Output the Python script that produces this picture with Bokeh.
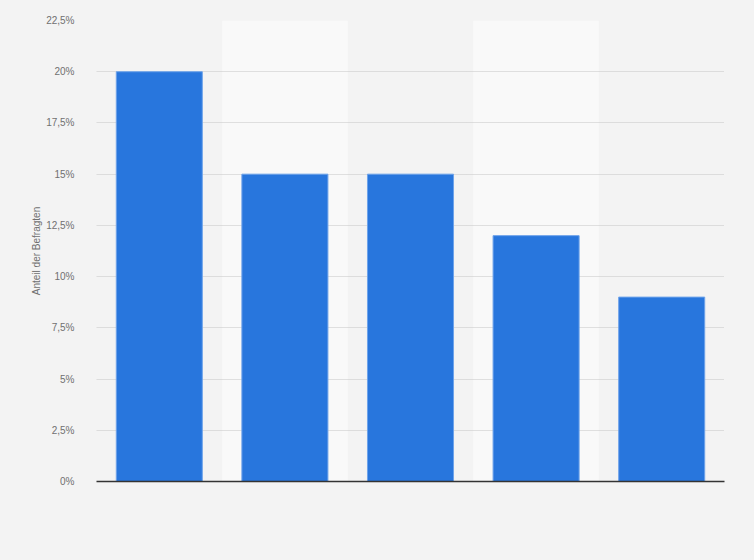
from bokeh.plotting import figure
from bokeh.models import Range1d, FixedTicker, CustomJSTickFormatter
from bokeh.embed import file_html
from bokeh.resources import INLINE

categories = ["1", "2", "3", "4", "5"]
values = [20, 15, 15, 12, 9]
band_categories = ["2", "4"]
y_ticks = [0, 2.5, 5, 7.5, 10, 12.5, 15, 17.5, 20, 22.5]
y_max = 22.5
y_label = "Anteil der Befragten"

BG = "#f3f3f3"
FONT = "Liberation Sans"

p = figure(width=738, height=544, x_range=categories, y_range=Range1d(0, y_max),
           output_backend="svg", toolbar_location=None,
           min_border_left=96, min_border_right=14, min_border_top=20, min_border_bottom=63)
p.background_fill_color = BG
p.border_fill_color = BG
p.outline_line_color = None

# lighter alternating bands
p.vbar(x=band_categories, top=[y_max] * len(band_categories), bottom=0, width=1.0,
       fill_color="#f9f9f9", line_color=None, level="image")

p.vbar(x=categories, top=values, width=0.685, fill_color="#2876dd",
       line_color="#6ea3ea", line_width=1)

p.xgrid.grid_line_color = None
p.ygrid.grid_line_color = "#c4c4c4"
p.ygrid.grid_line_dash = "1 1"
p.ygrid.grid_line_width = 1
p.ygrid.ticker = FixedTicker(ticks=y_ticks)

ya = p.yaxis[0]
ya.ticker = FixedTicker(ticks=y_ticks)
ya.formatter = CustomJSTickFormatter(code="return tick.toString().replace('.', ',') + '%';")
ya.axis_line_color = None
ya.major_tick_line_color = None
ya.minor_tick_line_color = None
ya.major_label_text_font = FONT
ya.major_label_text_font_size = "10px"
ya.major_label_text_color = "#707070"
ya.major_label_standoff = 16
ya.axis_label = y_label
ya.axis_label_text_font = FONT
ya.axis_label_text_font_size = "10px"
ya.axis_label_text_font_style = "normal"
ya.axis_label_text_color = "#707070"
ya.axis_label_standoff = 1

xa = p.xaxis[0]
xa.axis_line_color = "#333333"
xa.axis_line_width = 1.5
xa.major_tick_line_color = None
xa.minor_tick_line_color = None
xa.major_label_text_color = None
xa.major_label_text_font_size = "1px"

html = file_html(p, INLINE)
html = html.replace("<head>", "<head><style>html,body{background:%s;}</style>" % BG, 1)
open("out.html", "w").write(html)
